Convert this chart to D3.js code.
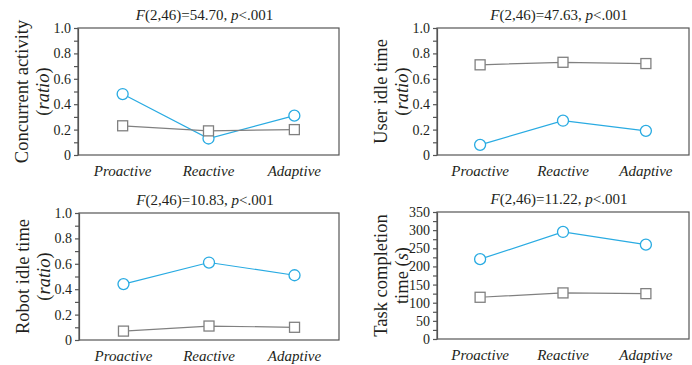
<html>
<head>
<style>
  body { margin: 0; background: #fff; }
  text { font-family: "Liberation Serif", "DejaVu Serif", serif; fill: #231f20; }
</style>
</head>
<body>
<script src="https://cdn.jsdelivr.net/npm/d3@7"></script>
<script>

    // data
    var conditions = ["Proactive", "Reactive", "Adaptive"];

    var concurrentBlue = [0.48, 0.13, 0.31],
        concurrentGray = [0.23, 0.19, 0.20];
    var userIdleBlue = [0.08, 0.27, 0.19],
        userIdleGray = [0.71, 0.73, 0.72];
    var robotIdleBlue = [0.44, 0.61, 0.51],
        robotIdleGray = [0.07, 0.11, 0.10];
    var taskBlue = [220, 295, 260],
        taskGray = [115, 127, 125];

    var fValues = ["54.70", "47.63", "10.83", "11.22"];
    var ratioTicks = [0, 0.2, 0.4, 0.6, 0.8, 1.0];
    var timeTicks = [0, 50, 100, 150, 200, 250, 300, 350];

    var blue = "#29abe2", gray = "#808080", axisColor = "#555";

    var width = 692, height = 365;

    var svg = d3.select("body").append("svg")
        .attr("width", width)
        .attr("height", height);

    var panels = [
        { box: [78, 28, 339, 155], label: ["Concurrent activity", "(ratio)"], blue: concurrentBlue, gray: concurrentGray, f: fValues[0], max: 1, ticks: ratioTicks, minor: 0.1 },
        { box: [437, 28, 689, 155], label: ["User idle time", "(ratio)"], blue: userIdleBlue, gray: userIdleGray, f: fValues[1], max: 1, ticks: ratioTicks, minor: 0.1 },
        { box: [79, 213, 339, 340], label: ["Robot idle time", "(ratio)"], blue: robotIdleBlue, gray: robotIdleGray, f: fValues[2], max: 1, ticks: ratioTicks, minor: 0.1 },
        { box: [437, 212, 689, 339], label: ["Task completion", "time (s)"], blue: taskBlue, gray: taskGray, f: fValues[3], max: 350, ticks: timeTicks, minor: 25 }
    ];

    panels.forEach(drawPanel);

    function drawPanel(p) {
        var x0 = p.box[0], y0 = p.box[1], x1 = p.box[2], y1 = p.box[3];

        var x = d3.scalePoint()
            .domain(conditions)
            .range([x0, x1])
            .padding(0.52);

        var y = d3.scaleLinear()
            .domain([0, p.max])
            .range([y1, y0]);

        var g = svg.append("g");

        // frame
        g.append("rect")
            .attr("x", x0).attr("y", y0)
            .attr("width", x1 - x0).attr("height", y1 - y0)
            .style("fill", "none")
            .style("stroke", axisColor)
            .style("stroke-width", 1.2);

        // y axis, a tick at every minor step, labels on the major ones
        var allTicks = d3.range(0, p.max + p.minor / 2, p.minor);
        var yAxis = d3.axisLeft(y)
            .tickValues(allTicks)
            .tickSize(4)
            .tickSizeOuter(0)
            .tickPadding(3)
            .tickFormat(function(d) {
                var major = p.ticks.some(function(t) { return Math.abs(t - d) < 1e-6; });
                if (!major) return "";
                if (p.max === 1) return d === 0 ? "0" : d3.format(".1f")(d);
                return d3.format("d")(d);
            });

        var ax = g.append("g")
            .attr("transform", "translate(" + x0 + ",0)")
            .call(yAxis);
        ax.select(".domain").style("stroke", axisColor).style("stroke-width", 1.2);
        ax.selectAll(".tick line").style("stroke", axisColor).style("stroke-width", 1.2);
        ax.selectAll(".tick text")
            .style("font-family", "Liberation Serif")
            .style("font-size", "14px")
            .style("fill", "#231f20");

        // category labels
        g.selectAll(".cat").data(conditions)
            .enter().append("text")
            .attr("x", function(d) { return x(d); })
            .attr("y", y1 + 21)
            .attr("text-anchor", "middle")
            .style("font-size", "15px")
            .style("font-style", "italic")
            .text(function(d) { return d; });

        // title with italic F and p
        var title = g.append("text")
            .attr("x", (x0 + x1) / 2 - 4)
            .attr("y", y0 - 8)
            .attr("text-anchor", "middle")
            .style("font-size", "15px");
        title.append("tspan").style("font-style", "italic").text("F");
        title.append("tspan").text("(2,46)=" + p.f + ", ");
        title.append("tspan").style("font-style", "italic").text("p");
        title.append("tspan").text("<.001");

        // y label, two lines
        var cy = (y0 + y1) / 2;
        g.append("text")
            .attr("transform", "translate(" + (x0 - 50) + "," + cy + ") rotate(-90)")
            .attr("text-anchor", "middle")
            .style("font-size", "18.5px")
            .text(p.label[0]);
        var l2 = g.append("text")
            .attr("transform", "translate(" + (x0 - 29) + "," + cy + ") rotate(-90)")
            .attr("text-anchor", "middle")
            .style("font-size", "18.5px");
        if (p.label[1] === "(ratio)") {
            l2.append("tspan").text("(");
            l2.append("tspan").style("font-style", "italic").text("ratio");
            l2.append("tspan").text(")");
        } else {
            l2.append("tspan").text("time (");
            l2.append("tspan").style("font-style", "italic").text("s");
            l2.append("tspan").text(")");
        }

        var line = d3.line()
            .x(function(d, i) { return x(conditions[i]); })
            .y(function(d) { return y(d); });

        // blue series
        g.append("path")
            .datum(p.blue)
            .attr("d", line)
            .style("fill", "none")
            .style("stroke", blue)
            .style("stroke-width", 1.2);
        g.selectAll(".circ").data(p.blue)
            .enter().append("circle")
            .attr("cx", function(d, i) { return x(conditions[i]); })
            .attr("cy", function(d) { return y(d); })
            .attr("r", 5.5)
            .style("fill", "#fff")
            .style("stroke", blue)
            .style("stroke-width", 1.3);

        // gray series
        g.append("path")
            .datum(p.gray)
            .attr("d", line)
            .style("fill", "none")
            .style("stroke", gray)
            .style("stroke-width", 1.2);
        g.selectAll(".sq").data(p.gray)
            .enter().append("rect")
            .attr("x", function(d, i) { return x(conditions[i]) - 5; })
            .attr("y", function(d) { return y(d) - 5; })
            .attr("width", 10)
            .attr("height", 10)
            .style("fill", "#fff")
            .style("stroke", gray)
            .style("stroke-width", 1.3);
    }

</script>
</body>
</html>
